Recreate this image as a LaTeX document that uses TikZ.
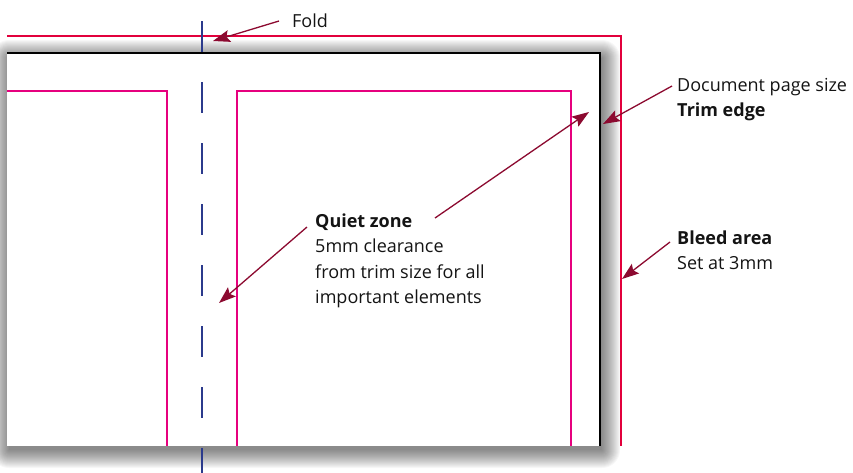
\documentclass[tikz,border=0pt]{standalone}
\usepackage{fontspec}
\setmainfont{Open Sans}
\usetikzlibrary{arrows.meta}
\definecolor{bleedred}{HTML}{E2003C}
\definecolor{marginpink}{HTML}{E6007E}
\definecolor{foldblue}{HTML}{2B3A8C}
\definecolor{arrowred}{HTML}{8C0A30}
\tikzset{
  lbl/.style={inner sep=0pt, anchor=base west, align=left, font=\fontsize{18}{25.5}\selectfont, text=black!92},
  callout/.style={draw=arrowred, line width=1.3pt, -{Stealth[length=17pt,width=12pt,inset=3pt]}},
  bleedline/.style={draw=bleedred, line width=1.4pt},
  marginline/.style={draw=marginpink, line width=1.2pt},
  foldline/.style={draw=foldblue, line width=2.6pt, dash pattern=on 31pt off 30pt},
  pageedge/.style={draw=black, line width=1.5pt}
}
\begin{document}
\begin{tikzpicture}[x=1pt,y=-1pt]
\useasboundingbox (0,0) rectangle (853,472);
% shadow
\foreach \r in {0,1,...,18}{
  \fill[black, opacity=0.03, rounded corners=\r pt] ({9-\r},{58-\r}) rectangle ({602+\r},{450+\r});
}
% page
\fill[white] (7,53) rectangle (600,446);
\draw[pageedge] (7,53) -- (600,53) -- (600,446);
% margins
\draw[marginline] (7,91) -- (167,91) -- (167,446);
\draw[marginline] (237,446) -- (237,91) -- (571,91) -- (571,446);
% bleed
\draw[bleedline] (7,36) -- (621,36) -- (621,446);
% fold
\draw[foldline] (202,21) -- (202,480);
% labels (anchored at the baseline of the last line)
\node[lbl] (fold) at (292,27) {Fold};
\node[lbl] (trim) at (677,116.5) {Document page size\\\textbf{Trim edge}};
\node[lbl] (bleed) at (677,269.5) {\textbf{Bleed area}\\Set at 3mm};
\node[lbl] (quiet) at (315,303.5) {\textbf{Quiet zone}\\5mm clearance\\from trim size for all\\important elements};
% arrow coordinates
\coordinate (foldS) at (279,21);
\coordinate (foldT) at (213,41);
\coordinate (trimS) at (672,86);
\coordinate (trimT) at (603,124);
\coordinate (bleedS) at (670,242);
\coordinate (bleedT) at (622,279);
\coordinate (quietS1) at (435,218);
\coordinate (quietT1) at (589,112);
\coordinate (quietS2) at (307,227);
\coordinate (quietT2) at (219,303);
\draw[callout] (foldS) -- (foldT);
\draw[callout] (trimS) -- (trimT);
\draw[callout] (bleedS) -- (bleedT);
\draw[callout] (quietS1) -- (quietT1);
\draw[callout] (quietS2) -- (quietT2);
\end{tikzpicture}
\end{document}
